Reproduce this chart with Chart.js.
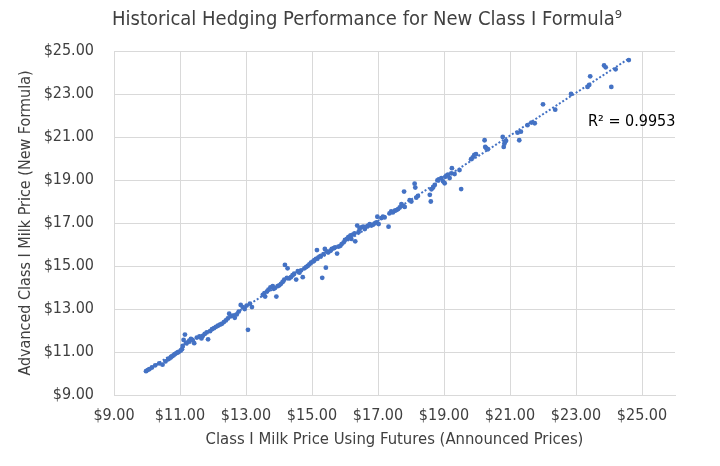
<!DOCTYPE html>
<html>
<head>
<meta charset="utf-8">
<script src="https://cdn.jsdelivr.net/npm/chart.js@4.4.0/dist/chart.umd.min.js"></script>
<style>
  html, body { margin: 0; padding: 0; background: #fff; }
</style>
</head>
<body>
<canvas id="hedgeChart" width="720" height="466"></canvas>
<script>
// Class I price using futures (x) vs advanced Class I price under new formula (y)
const futuresPrices = [
  9.97, 10.02, 10.07, 10.15, 10.25, 10.37, 10.47, 10.56, 10.64, 10.68,
  10.72, 10.76, 10.80, 10.84, 10.88, 10.92, 10.96, 11.02, 11.06, 11.08,
  11.11, 11.15, 11.18, 11.24, 11.28, 11.33, 11.38, 11.43, 11.51, 11.59,
  11.65, 11.69, 11.75, 11.81, 11.85, 11.91, 11.97, 12.03, 12.09, 12.15,
  12.21, 12.27, 12.33, 12.39, 12.45, 12.49, 12.54, 12.60, 12.66, 12.72,
  12.78, 12.84, 12.90, 12.96, 13.02, 13.06, 13.12, 13.18,
  13.51, 13.56, 13.58, 13.64, 13.68, 13.74, 13.81, 13.84, 13.88, 13.92,
  13.96, 14.01, 14.06, 14.11, 14.16, 14.18, 14.24, 14.26, 14.31, 14.36,
  14.41, 14.46, 14.52, 14.57, 14.62, 14.67, 14.72, 14.77, 14.82, 14.87,
  14.92, 14.97, 15.02, 15.07, 15.12, 15.15, 15.19, 15.23, 15.27, 15.31,
  15.35, 15.39, 15.42, 15.45, 15.49, 15.56, 15.60, 15.66, 15.70, 15.76,
  15.80, 15.86, 15.90, 15.96, 16.00, 16.06, 16.10,
  16.14, 16.17, 16.19, 16.24, 16.29, 16.31, 16.37, 16.41, 16.44, 16.49,
  16.55, 16.60, 16.65, 16.70, 16.75, 16.80, 16.85, 16.90, 16.95, 16.98,
  17.02, 17.10, 17.15, 17.20, 17.32, 17.35, 17.40, 17.45, 17.51, 17.56,
  17.61, 17.66, 17.71, 17.76, 17.79, 17.81, 17.96, 18.01, 18.11, 18.13,
  18.16, 18.21, 18.57, 18.60, 18.62, 18.67, 18.72, 18.80, 18.84,
  18.92, 18.97, 19.02, 19.04, 19.07, 19.12, 19.17, 19.22, 19.24, 19.32,
  19.47, 19.52, 19.82, 19.87, 19.92, 19.97, 20.23, 20.25, 20.28, 20.33,
  20.78, 20.81, 20.83, 20.85, 20.88, 21.23, 21.28, 21.33, 21.53,
  21.65, 21.75, 22.00, 22.37, 22.85, 23.35, 23.40, 23.43, 23.85, 23.90,
  24.07, 24.20, 24.60
];
const advancedPrices = [
  10.11, 10.16, 10.20, 10.28, 10.38, 10.47, 10.41, 10.56, 10.66, 10.70,
  10.75, 10.80, 10.84, 10.89, 10.94, 10.97, 11.00, 11.06, 11.13, 11.28,
  11.56, 11.81, 11.41, 11.45, 11.53, 11.61, 11.56, 11.41, 11.67, 11.72,
  11.63, 11.75, 11.84, 11.91, 11.59, 11.97, 12.06, 12.11, 12.17, 12.22,
  12.27, 12.31, 12.39, 12.47, 12.56, 12.78, 12.66, 12.69, 12.59, 12.75,
  12.88, 13.19, 13.09, 13.00, 13.16, 12.03, 13.25, 13.09,
  13.66, 13.74, 13.58, 13.82, 13.90, 14.01, 14.06, 13.94, 13.98, 13.58,
  14.06, 14.10, 14.17, 14.26, 14.37, 15.05, 14.45, 14.89, 14.42, 14.48,
  14.57, 14.64, 14.37, 14.76, 14.69, 14.80, 14.48, 14.89, 14.95, 15.00,
  15.08, 15.16, 15.20, 15.27, 15.33, 15.74, 15.39, 15.44, 15.47, 14.45,
  15.55, 15.79, 14.92, 15.68, 15.63, 15.71, 15.79, 15.83, 15.87, 15.58,
  15.90, 15.94, 16.02, 16.10, 16.21, 16.26, 16.34,
  16.37, 16.42, 16.26, 16.46, 16.52, 16.15, 16.88, 16.57, 16.72, 16.80,
  16.83, 16.72, 16.83, 16.88, 16.95, 16.88, 16.92, 16.98, 17.03, 17.29,
  16.95, 17.23, 17.29, 17.26, 16.83, 17.45, 17.54, 17.49, 17.57, 17.60,
  17.65, 17.72, 17.88, 17.80, 18.46, 17.75, 18.06, 18.00, 18.83, 18.65,
  18.18, 18.26, 18.31, 18.00, 18.57, 18.65, 18.77, 18.98, 19.03,
  19.09, 18.94, 18.85, 19.15, 19.20, 19.25, 19.09, 19.31, 19.55, 19.28,
  19.46, 18.58, 19.97, 20.05, 20.17, 20.20, 20.85, 20.54, 20.48, 20.43,
  21.00, 20.54, 20.69, 20.78, 20.82, 21.20, 20.85, 21.25, 21.55,
  21.67, 21.64, 22.52, 22.27, 23.00, 23.33, 23.42, 23.82, 24.33, 24.24,
  23.33, 24.15, 24.58
];
const xTickValues = [9, 11, 13, 15, 17, 19, 21, 23, 25];
const yTickValues = [9, 11, 13, 15, 17, 19, 21, 23, 25];
const chartTitle = "Historical Hedging Performance for New Class I Formula\u2079";
const rSquaredLabel = "R\u00B2 = 0.9953";

const FONT = "'DejaVu Sans Condensed', 'DejaVu Sans', sans-serif";
const BLUE = "#4472c4";
const TEXT = "#404040";
const GRID = "#d9d9d9";

const points = futuresPrices.map((x, i) => ({ x: x, y: advancedPrices[i] }));

// linear trendline (least squares) from the data itself
const n = points.length;
let sx = 0, sy = 0, sxx = 0, sxy = 0;
points.forEach(p => { sx += p.x; sy += p.y; sxx += p.x * p.x; sxy += p.x * p.y; });
const slope = (n * sxy - sx * sy) / (n * sxx - sx * sx);
const intercept = (sy - slope * sx) / n;
const xMin = Math.min(...futuresPrices);
const xMax = Math.max(...futuresPrices);
const trend = [
  { x: xMin, y: intercept + slope * xMin },
  { x: xMax, y: intercept + slope * xMax }
];

// title (Excel centres it a bit off the canvas middle) and the R² label
const textPlugin = {
  id: "extraText",
  afterDraw(chart) {
    const { ctx, scales } = chart;
    ctx.save();
    ctx.textAlign = "center";
    ctx.textBaseline = "middle";
    ctx.font = "20px " + FONT;
    ctx.fillStyle = TEXT;
    ctx.fillText(chartTitle, 367, 20);
    ctx.font = "16px " + FONT;
    ctx.fillStyle = "#000";
    ctx.fillText(rSquaredLabel, scales.x.getPixelForValue(24.69), scales.y.getPixelForValue(21.7));
    ctx.restore();
  }
};

const money = v => "$" + Number(v).toFixed(2);

new Chart(document.getElementById("hedgeChart").getContext("2d"), {
  type: "scatter",
  data: {
    datasets: [
      {
        type: "line",
        data: trend,
        borderColor: BLUE,
        borderWidth: 2,
        borderDash: [2, 2],
        pointRadius: 0,
        fill: false,
        order: 0
      },
      {
        data: points,
        backgroundColor: BLUE,
        borderColor: BLUE,
        borderWidth: 0,
        pointRadius: 2.4,
        order: 1
      }
    ]
  },
  options: {
    responsive: false,
    animation: false,
    devicePixelRatio: 1,
    layout: { padding: { left: 0, right: 45, top: 51, bottom: 0 } },
    plugins: {
      legend: { display: false },
      tooltip: { enabled: false },
      title: { display: false }
    },
    scales: {
      x: {
        type: "linear",
        min: 9,
        max: 26,
        afterFit: s => { s.height = 71; },
        afterBuildTicks: s => { s.ticks = xTickValues.map(v => ({ value: v })); },
        grid: { color: GRID, drawTicks: false },
        border: { color: GRID },
        ticks: {
          padding: 11,
          color: TEXT,
          font: { family: FONT, size: 16 },
          callback: money
        },
        title: {
          display: true,
          text: "Class I Milk Price Using Futures (Announced Prices)",
          color: TEXT,
          font: { family: FONT, size: 16.5 },
          padding: { top: 0, bottom: 16 }
        }
      },
      y: {
        min: 9,
        max: 25,
        afterFit: s => { s.width = 114; },
        afterBuildTicks: s => { s.ticks = yTickValues.map(v => ({ value: v })); },
        grid: { color: GRID, drawTicks: false },
        border: { color: GRID },
        ticks: {
          padding: 20,
          color: TEXT,
          font: { family: FONT, size: 16 },
          callback: money
        },
        title: {
          display: true,
          text: "Advanced Class I Milk Price (New Formula)",
          color: TEXT,
          font: { family: FONT, size: 16 },
          padding: { top: 16.5, bottom: 0 }
        }
      }
    }
  },
  plugins: [textPlugin]
});
</script>
</body>
</html>
